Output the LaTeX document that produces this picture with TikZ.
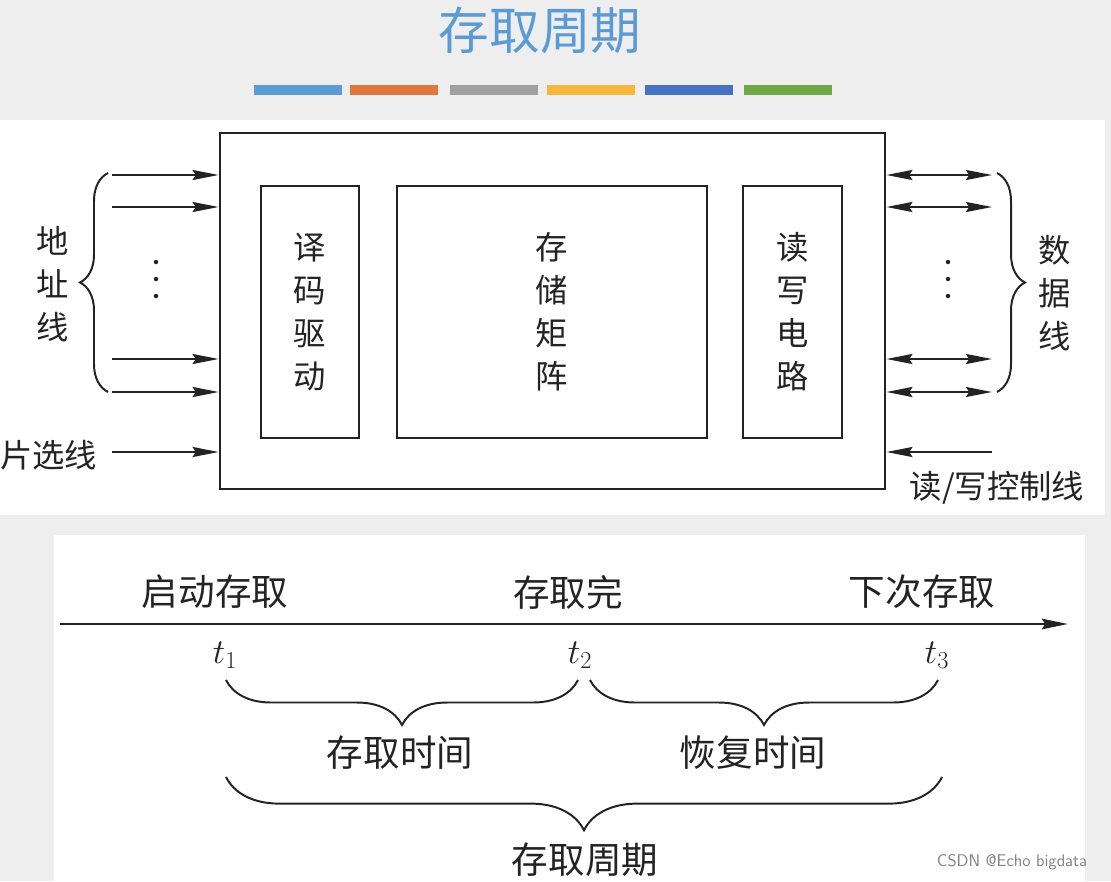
\documentclass[tikz,border=0pt]{standalone}
\usepackage{fontspec}
\usepackage{tikz}
\usetikzlibrary{arrows.meta,positioning,decorations.pathreplacing}
\newfontfamily\cjk{Noto Sans CJK SC}
\definecolor{titleblue}{RGB}{91,155,213}
\definecolor{bgray}{RGB}{238,238,238}
\definecolor{inkgray}{RGB}{35,35,35}
\definecolor{barblue}{RGB}{91,155,213}
\definecolor{barorange}{RGB}{224,120,60}
\definecolor{bargray}{RGB}{160,160,160}
\definecolor{baryellow}{RGB}{245,183,60}
\definecolor{bardblue}{RGB}{68,114,196}
\definecolor{bargreen}{RGB}{112,168,72}
\tikzstyle{blockbox} = [draw=inkgray, line width=1.9pt, inner sep=0pt]
\tikzstyle{sigline} = [inkgray, line width=1.4pt, -{Stealth[length=0.65cm,width=0.25cm,inset=0.08cm]}]
\tikzstyle{busline} = [inkgray, line width=1.4pt, {Stealth[length=0.65cm,width=0.25cm,inset=0.08cm]}-{Stealth[length=0.65cm,width=0.25cm,inset=0.08cm]}]
\tikzstyle{cjklbl} = [text=inkgray, font=\cjk\fontsize{23}{30.6}\selectfont, align=center, inner sep=0pt]
\tikzstyle{timelbl} = [text=inkgray, font=\cjk\fontsize{26}{30}\selectfont, inner sep=0pt]
\tikzstyle{tmark} = [text=inkgray, font=\fontsize{25}{28}\selectfont, inner sep=0pt]
\tikzset{bracket/.style={inkgray, line width=1.4pt, decorate, decoration={brace, amplitude=#1}}}

\begin{document}
\begin{tikzpicture}[x=0.025cm,y=-0.025cm]
\fill[bgray] (0,0) rectangle (1111,881);
\fill[white] (0,120) rectangle (1105,515);
\fill[white] (54,535) rectangle (1085,881);
\useasboundingbox (0,0) rectangle (1111,881);

% title and colour bars
\node[font=\cjk\fontsize{36}{40}\selectfont, text=titleblue] (title) at (540,30) {存取周期};
\foreach \x/\c in {254/barblue,350/barorange,450/bargray,547/baryellow,645/bardblue,744/bargreen}
  \fill[\c] (\x,85) rectangle ++(88,10);

% memory chip
\node[blockbox, minimum width=16.625cm, minimum height=8.9cm] (mem) at (552.5,311) {};
\node[blockbox, cjklbl, minimum width=2.45cm, minimum height=6.3cm] (dec) at (310,312) {译\\码\\驱\\动};
\node[blockbox, cjklbl, minimum width=7.75cm, minimum height=6.3cm] (mat) at (552,312) {存\\储\\矩\\阵};
\node[blockbox, cjklbl, minimum width=2.475cm, minimum height=6.3cm] (rwc) at (792.5,312) {读\\写\\电\\路};

% address lines
\foreach \y [count=\i] in {175,207,359,392}
  {\coordinate (ain\i) at (112,\y);
   \draw[sigline] (ain\i) -- (ain\i -| mem.west);}
\foreach \d in {262,279,296} \fill[inkgray] (156,\d) circle (1.6pt);
\coordinate (lbb) at (108,392);
\coordinate (lbt) at (108,173);
\draw[bracket=0.7cm] (lbb) -- (lbt);
\node[cjklbl] (addr) at (53,284) {地\\址\\线};

% chip select
\coordinate (cs) at (112,452);
\draw[sigline] (cs) -- (cs -| mem.west);
\node[cjklbl, anchor=west] (cslbl) at (0,455) {片选线};

% data lines
\foreach \y [count=\i] in {175,207,359,392}
  {\coordinate (dout\i) at (992,\y);
   \draw[busline] (dout\i -| mem.east) -- (dout\i);}
\foreach \d in {262,279,296} \fill[inkgray] (948,\d) circle (1.6pt);
\coordinate (rbt) at (997,173);
\coordinate (rbb) at (997,392);
\draw[bracket=0.7cm] (rbt) -- (rbb);
\node[cjklbl] (data) at (1055,293) {数\\据\\线};

% read/write control
\coordinate (rw) at (992,452);
\draw[sigline] (rw) -- (rw -| mem.east);
\node[cjklbl] (rwlbl) at (997,488) {读/写控制线};

% time axis
\coordinate (tstart) at (60,624);
\coordinate (tend) at (1068,624);
\draw[inkgray, line width=2pt, -{Stealth[length=0.65cm,width=0.26cm,inset=0.08cm]}] (tstart) -- (tend);
\node[timelbl] (start) at (215,592) {启动存取};
\node[timelbl] (done) at (568,592) {存取完};
\node[timelbl] (next) at (922,592) {下次存取};
\node[tmark] (t1) at (225,655) {$t_1$};
\node[tmark] (t2) at (580,655) {$t_2$};
\node[tmark] (t3) at (937,655) {$t_3$};

% braces
\coordinate (b1l) at (226,680);
\coordinate (b1r) at (578,680);
\coordinate (b2l) at (590,680);
\coordinate (b2r) at (938,680);
\draw[bracket=1.125cm] (b1r) -- (b1l);
\draw[bracket=1.125cm] (b2r) -- (b2l);
\node[timelbl] (acc) at (400,753) {存取时间};
\node[timelbl] (rec) at (753,753) {恢复时间};
\coordinate (b3l) at (226,777);
\coordinate (b3r) at (942,777);
\draw[bracket=1.33cm] (b3r) -- (b3l);
\node[timelbl] (cyc) at (585,860) {存取周期};

\node[font=\sffamily\fontsize{12}{14}\selectfont, text=gray] (mark) at (1012,862) {CSDN @Echo bigdata};
\end{tikzpicture}
\end{document}
